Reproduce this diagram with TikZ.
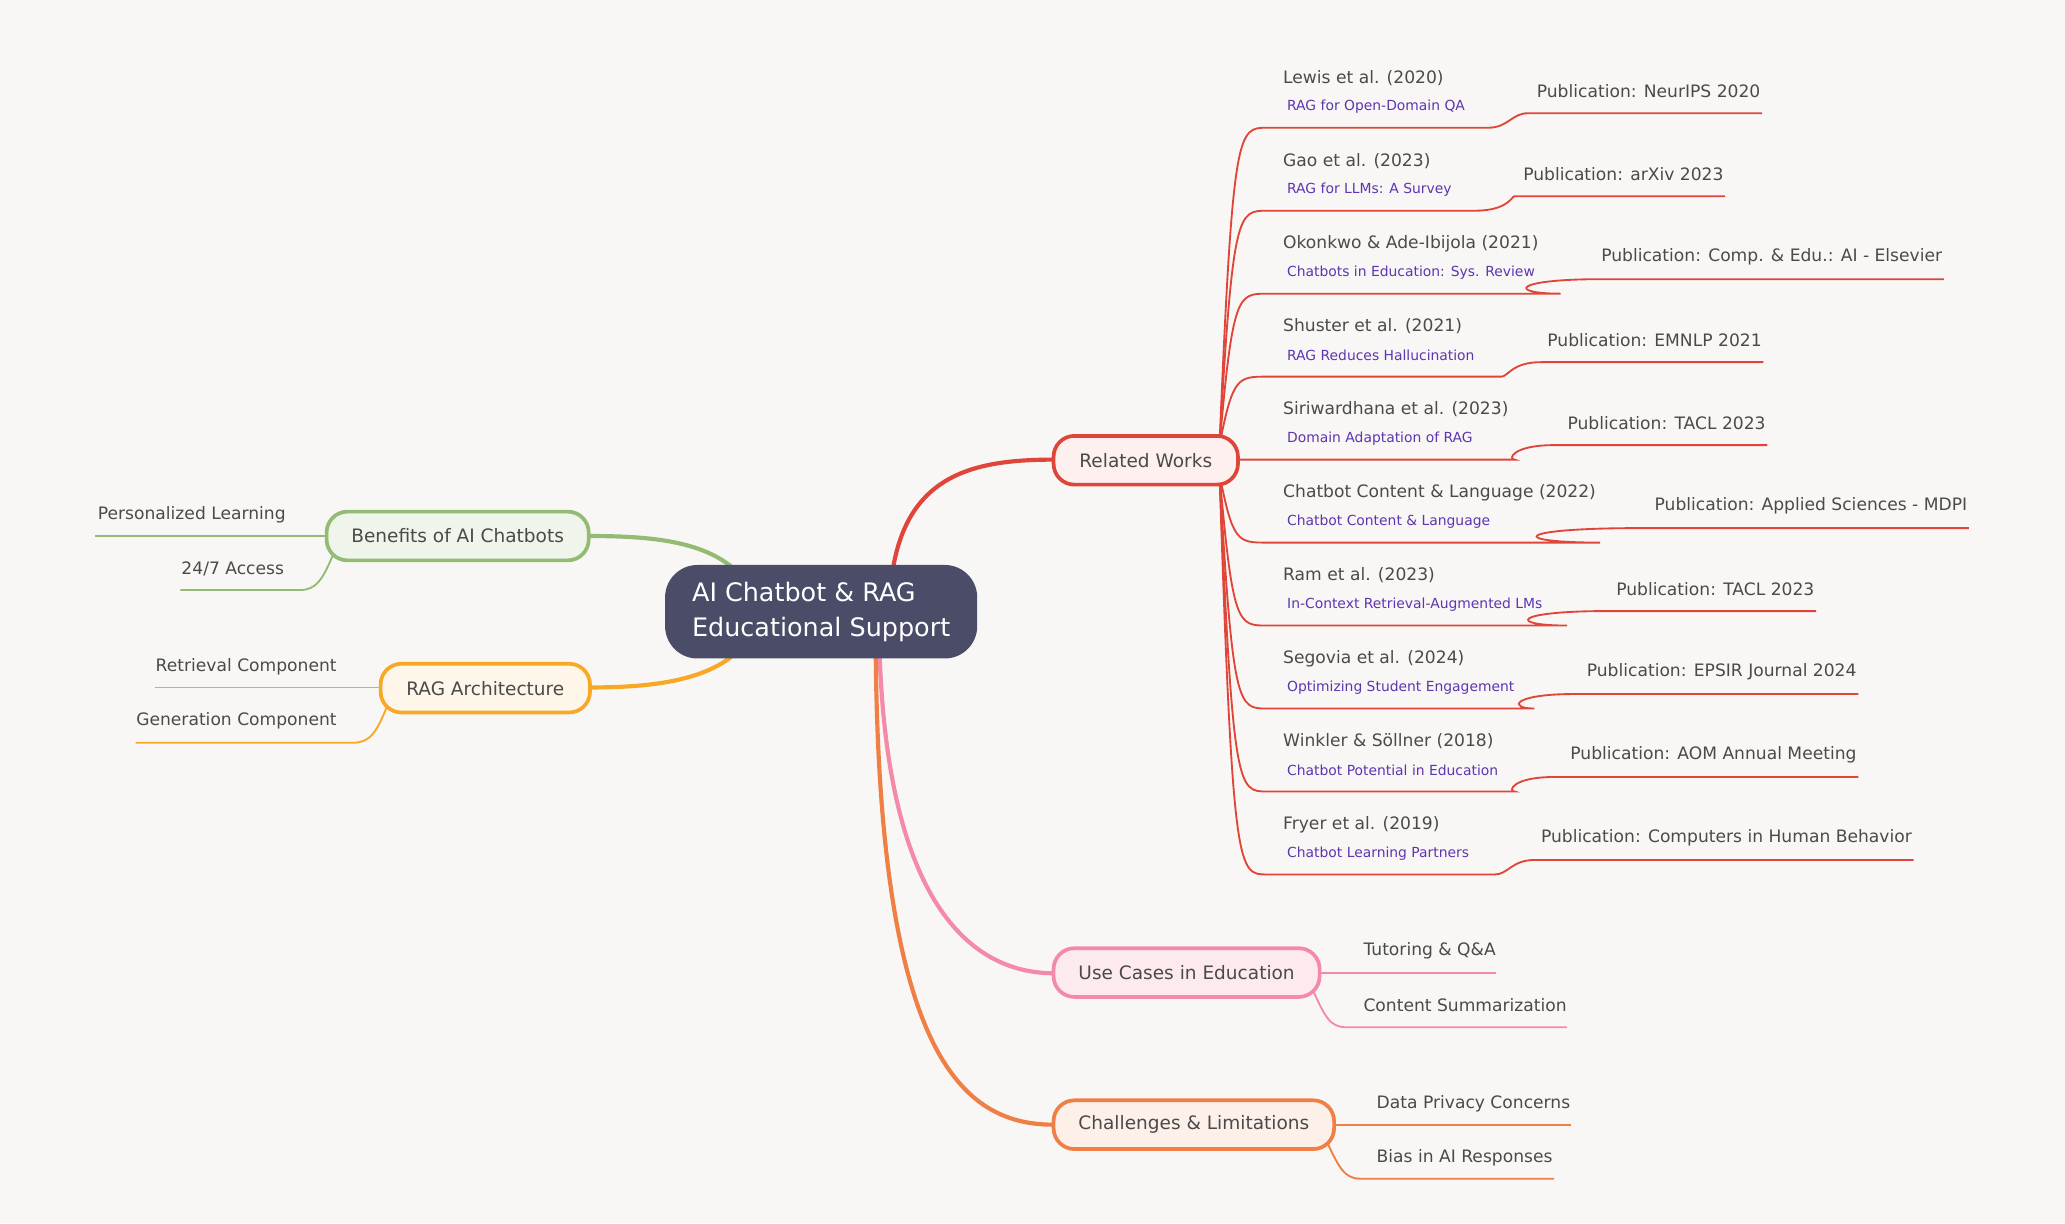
\documentclass[tikz,border=0pt]{standalone}
\usepackage{fontspec}
\setmainfont{DejaVu Sans}
\definecolor{bg}{HTML}{F8F7F5}
\definecolor{txt}{HTML}{4A4A4A}
\definecolor{pur}{HTML}{5E35B1}
\definecolor{cen}{HTML}{4A4C68}
\definecolor{red}{HTML}{E0453A}
\definecolor{grn}{HTML}{93BB74}
\definecolor{org}{HTML}{F9A825}
\definecolor{pnk}{HTML}{F48AA8}
\definecolor{chl}{HTML}{EF7F45}
\tikzset{
 box/.style={draw=#1, line width=1.6pt, rounded corners=9pt, text=txt, font=\fontsize{8}{10}\selectfont, minimum height=37*0.02cm, inner sep=0pt},
 lbl/.style={text=txt, font=\fontsize{7.4}{9}\selectfont, inner sep=0pt},
 sub/.style={text=pur, font=\fontsize{6}{7}\selectfont, inner sep=0pt},
 br/.style={line width=0.8pt},
}
\begin{document}
\begin{tikzpicture}[x=0.02cm,y=-0.02cm]
\fill[bg] (0,0) rectangle (1568,929);
\useasboundingbox (0,0) rectangle (1568,929);
% connectors from center
\draw[red,line width=1.8pt] (678,432) .. controls (690,360) and (740,349) .. (800,349);
\draw[grn,line width=1.8pt] (555,430) .. controls (530,410) and (490,407) .. (447,407);
\draw[org,line width=1.8pt] (555,499) .. controls (530,518) and (490,522) .. (448,522);
\draw[pnk,line width=1.8pt] (668,499) .. controls (675,690) and (740,739) .. (800,739);
\draw[chl,line width=1.8pt] (665,499) .. controls (668,800) and (730,854) .. (800,854);
\node[fill=cen, rounded corners=14pt, minimum width=237*0.02cm, minimum height=71*0.02cm, text=white, font=\fontsize{11}{15}\selectfont, align=left, inner sep=0pt] (c) at (623.5,464.5) {AI Chatbot \& RAG\\Educational Support};
% Related works
\foreach \i/\a/\s/\p/\xa/\xe in {
0/Lewis et al. (2020)/RAG for Open-Domain QA/NeurIPS 2020/1130/1338,
1/Gao et al. (2023)/RAG for LLMs: A Survey/arXiv 2023/1120/1310,
2/Okonkwo \& Ade-Ibijola (2021)/Chatbots in Education: Sys. Review/Comp. \& Edu.: AI - Elsevier/1185/1476,
3/Shuster et al. (2021)/RAG Reduces Hallucination/EMNLP 2021/1140/1339,
4/Siriwardhana et al. (2023)/Domain Adaptation of RAG/TACL 2023/1150/1342,
5/Chatbot Content \& Language (2022)/Chatbot Content \& Language/Applied Sciences - MDPI/1215/1495,
6/Ram et al. (2023)/In-Context Retrieval-Augmented LMs/TACL 2023/1190/1379,
7/Segovia et al. (2024)/Optimizing Student Engagement/EPSIR Journal 2024/1165/1411,
8/Winkler \& Söllner (2018)/Chatbot Potential in Education/AOM Annual Meeting/1150/1411,
9/Fryer et al. (2019)/Chatbot Learning Partners/Computers in Human Behavior/1135/1453}{
 \pgfmathsetmacro{\y}{97+63*\i}
 \pgfmathsetmacro{\sy}{ifthenelse(\i<4,338,ifthenelse(\i>4,360,349))}
 \pgfmathsetmacro{\sx}{ifthenelse(\i==4,940,926)}
 \draw[red,br] (\sx,\sy) .. controls (936,\y) and (940,\y) .. (962,\y) -- (\xa,\y) .. controls (1145,\y) and (1148,\y-11) .. (\xa+30,\y-11) -- (\xe,\y-11);
 \node[lbl,anchor=west] (a\i) at (974,\y-38) {\a};
 \node[sub,anchor=west] (s\i) at (977,\y-16) {\s};
 \node[lbl,anchor=east] (p\i) at (\xe-1,\y-28) {Publication: \p};
}
\node[box=red,fill=red!8,minimum width=140*0.02cm] (rw) at (870,349.5) {Related Works};
% Benefits
\draw[grn,br] (248,407) -- (72,407);
\draw[grn,br] (253,421) .. controls (245,440) and (240,448) .. (228,448) -- (137,448);
\node[lbl,anchor=west] (b1) at (74,391) {Personalized Learning};
\node[lbl,anchor=east] (b2) at (216,432) {24/7 Access};
\node[box=grn,fill=grn!15,minimum width=199*0.02cm] (ben) at (347.5,407) {Benefits of AI Chatbots};
% RAG
\draw[org,br] (289,522) -- (118,522);
\draw[org,br] (294,536) .. controls (286,556) and (281,564) .. (268,564) -- (103,564);
\node[lbl,anchor=east] (r1) at (256,506) {Retrieval Component};
\node[lbl,anchor=east] (r2) at (256,547) {Generation Component};
\node[box=org,fill=org!10,minimum width=159*0.02cm] (rag) at (368.5,522.5) {RAG Architecture};
% Use cases
\draw[pnk,br] (1002,739) -- (1136,739);
\draw[pnk,br] (997,752) .. controls (1006,772) and (1010,780) .. (1022,780) -- (1190,780);
\node[lbl,anchor=west] (u1) at (1035,722) {Tutoring \& Q\&A};
\node[lbl,anchor=west] (u2) at (1035,763) {Content Summarization};
\node[box=pnk,fill=pnk!18,minimum width=202*0.02cm] (use) at (901,738.5) {Use Cases in Education};
% Challenges
\draw[chl,br] (1013,854) -- (1193,854);
\draw[chl,br] (1008,868) .. controls (1017,887) and (1021,895) .. (1033,895) -- (1180,895);
\node[lbl,anchor=west] (h1) at (1045,838) {Data Privacy Concerns};
\node[lbl,anchor=west] (h2) at (1045,879) {Bias in AI Responses};
\node[box=chl,fill=chl!12,minimum width=213*0.02cm] (cha) at (906.5,854) {Challenges \& Limitations};
\end{tikzpicture}
\end{document}
